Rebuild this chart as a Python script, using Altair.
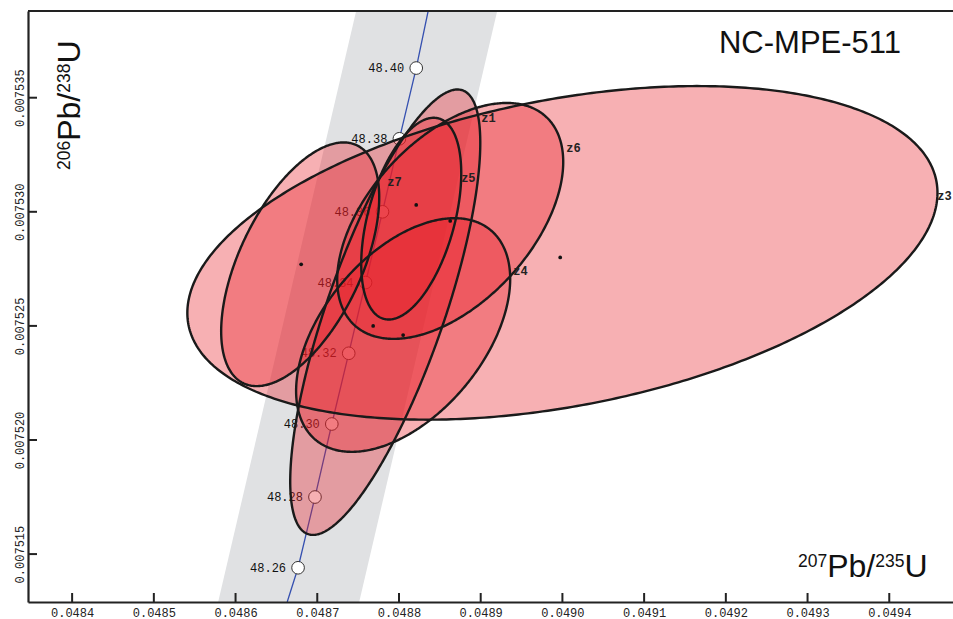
import numpy as np
import pandas as pd
import altair as alt

# ---------------- data ----------------
x_ticks = [0.0484, 0.0485, 0.0486, 0.0487, 0.0488, 0.0489, 0.0490, 0.0491, 0.0492, 0.0493, 0.0494]
y_ticks = [0.007515, 0.007520, 0.007525, 0.007530, 0.007535]
x_domain = [0.048346, 0.049478]
y_domain = [0.0075129, 0.0075388]

# concordia age markers (Ma) and their positions
ages = ["48.26", "48.28", "48.30", "48.32", "48.34", "48.36", "48.38", "48.40"]
age_x = [0.0486765, 0.0486972, 0.0487178, 0.0487385, 0.0487591, 0.0487798, 0.0488005, 0.0488211]
age_y = [0.0075144, 0.0075175, 0.0075207, 0.0075238, 0.0075269, 0.0075300, 0.0075332, 0.0075363]
# concordia line where it leaves the frame (bottom, top)
line_end_x = [0.0486632, 0.0488357]
line_end_y = [0.0075129, 0.0075388]

# decay-constant uncertainty band edges (bottom, top)
band_y = [0.0075129, 0.0075388]
band_xlo = [0.0485787, 0.0487476]
band_xhi = [0.0487513, 0.0489202]

# error ellipses
ell_id = ["z1", "z3", "z4", "z5", "z6", "z7"]
ell_cx = [0.0487832, 0.0490000, 0.0488051, 0.0488150, 0.0488627, 0.0486791]
ell_cy = [0.0075256, 0.0075282, 0.0075246, 0.0075297, 0.0075296, 0.0075277]
ell_sx = [1.163e-4, 4.590e-4, 1.310e-4, 6.12e-5, 1.383e-4, 9.67e-5]
ell_sy = [9.76e-6, 7.31e-6, 5.12e-6, 4.42e-6, 5.17e-6, 5.34e-6]
ell_rho = [0.76, 0.36, 0.48, 0.45, 0.50, 0.55]
dot_x = [0.0487684, 0.0489973, 0.0488051, 0.0488211, 0.0488627, 0.0486803]
dot_y = [0.0075250, 0.0075280, 0.0075246, 0.0075303, 0.0075296, 0.0075277]
# ellipse labels
lab_x = [0.0489006, 0.0494588, 0.0489398, 0.0488761, 0.0490047, 0.0487856]
lab_y = [0.0075341, 0.0075307, 0.0075274, 0.0075315, 0.0075328, 0.0075313]

sample_name = "NC-MPE-511"
# axis titles: pieces, superscript mass numbers
x_title_parts = ["207", "Pb/", "235", "U"]
y_title_parts = ["206", "Pb/", "238", "U"]
title_sup = [True, False, True, False]

# ---------------- build tables ----------------
area_rows, line_rows = [], []
ta = np.linspace(0, np.pi, 241)
to = np.linspace(0, 2 * np.pi, 481)
for k, name in enumerate(ell_id):
    cx, cy, sx, sy, r = ell_cx[k], ell_cy[k], ell_sx[k], ell_sy[k], ell_rho[k]
    s = np.sqrt(1 - r * r)
    for t in ta:
        area_rows.append({"id": name, "x": cx + sx * np.cos(t),
                          "yhi": cy + sy * (r * np.cos(t) + s * np.sin(t)),
                          "ylo": cy + sy * (r * np.cos(t) - s * np.sin(t))})
    for i, t in enumerate(to):
        line_rows.append({"id": name, "i": i, "x": cx + sx * np.cos(t),
                          "y": cy + sy * (r * np.cos(t) + s * np.sin(t))})
area_df = pd.DataFrame(area_rows)
outline_df = pd.DataFrame(line_rows)
dots_df = pd.DataFrame({"id": ell_id, "x": dot_x, "y": dot_y})
labels_df = pd.DataFrame({"id": ell_id, "x": lab_x, "y": lab_y})
band_df = pd.DataFrame({"y": band_y, "xlo": band_xlo, "xhi": band_xhi})
conc_df = pd.DataFrame({"x": [line_end_x[0]] + age_x + [line_end_x[1]],
                        "y": [line_end_y[0]] + age_y + [line_end_y[1]]})
ages_df = pd.DataFrame({"age": ages, "x": age_x, "y": age_y})
xt_df = pd.DataFrame({"v": x_ticks})
yt_df = pd.DataFrame({"v": y_ticks})

# ---------------- scales / axes ----------------
W, H = 925, 591
xs = alt.Scale(domain=x_domain, nice=False, zero=False)
ys = alt.Scale(domain=y_domain, nice=False, zero=False)
xaxis = alt.Axis(values=x_ticks, format=".4f", title=None, grid=False, ticks=False, tickSize=0,
                 domainColor="#222", domainWidth=2.2, labelFont="Liberation Mono", labelFontSize=12,
                 labelColor="#222", labelPadding=5, labelFlush=False, labelOverlap=False, zindex=1)
yaxis = alt.Axis(values=y_ticks, format=".6f", title=None, grid=False, ticks=False, tickSize=0,
                 domainColor="#222", domainWidth=2.2, labelFont="Liberation Mono", labelFontSize=12,
                 labelColor="#222", labelAngle=270, labelAlign="center", labelBaseline="bottom",
                 labelPadding=2, labelFlush=False, labelOverlap=False, zindex=1)


def X(f):
    return alt.X(f, type="quantitative", scale=xs, axis=xaxis)


def Y(f):
    return alt.Y(f, type="quantitative", scale=ys, axis=yaxis)


band = alt.Chart(band_df).mark_area(orient="horizontal", color="#e0e1e3", clip=True).encode(
    y=Y("y"), x=X("xlo"), x2="xhi")

conc = alt.Chart(conc_df).mark_line(color="#3550b0", strokeWidth=1.3, clip=True).encode(
    x=X("x"), y=Y("y"), order=alt.Order("x:Q"))

markers = alt.Chart(ages_df).mark_circle(size=160, color="white", stroke="#333", strokeWidth=1,
                                         opacity=1).encode(x=X("x"), y=Y("y"))

age_text = alt.Chart(ages_df).mark_text(align="right", baseline="middle", dx=-12, font="Liberation Mono",
                                        fontSize=12, color="#111").encode(x=X("x"), y=Y("y"), text="age:N")

fills = alt.Chart(area_df).mark_area(orient="vertical", color="#e81d26", opacity=0.35).encode(
    x=X("x"), y=Y("yhi"), y2="ylo", detail="id:N")

outlines = alt.Chart(outline_df).mark_line(color="#1a1a1a", strokeWidth=2.4).encode(
    x=X("x"), y=Y("y"), detail="id:N", order=alt.Order("i:Q"))

dots = alt.Chart(dots_df).mark_circle(size=14, color="#111", opacity=1).encode(x=X("x"), y=Y("y"))

zlabels = alt.Chart(labels_df).mark_text(align="left", baseline="middle", font="Liberation Mono",
                                         fontSize=12, fontWeight="bold", color="#222").encode(
    x=X("x"), y=Y("y"), text="id:N")

xticks = alt.Chart(xt_df).mark_rule(color="#222", strokeWidth=2).encode(
    x=X("v"), y=alt.value(H), y2=alt.value(H - 9))
yticks = alt.Chart(yt_df).mark_rule(color="#222", strokeWidth=2).encode(
    y=Y("v"), x=alt.value(0), x2=alt.value(9))
topline = alt.Chart(pd.DataFrame({"a": [0]})).mark_rule(color="#222", strokeWidth=2.2).encode(
    x=alt.value(0), x2=alt.value(W), y=alt.value(0))

name_t = alt.Chart(pd.DataFrame({"t": [sample_name]})).mark_text(
    align="center", baseline="alphabetic", font="Liberation Sans", fontSize=31, color="#111").encode(
    x=alt.value(782), y=alt.value(42), text="t:N")

# axis titles built from pieces (superscript mass numbers)
BIG, SMALL = 32, 17.5
CAP = 0.716


def width(txt, size):
    w = {"P": 0.667, "b": 0.556, "/": 0.278, "U": 0.722}
    return sum(w.get(c, 0.556) for c in txt) * size


title_layers = []
# x title: horizontal, starting at the left
pos = 770.0
base = 566.0
for txt, sup in zip(x_title_parts, title_sup):
    size = SMALL if sup else BIG
    yb = base - BIG * CAP + SMALL * CAP if sup else base
    title_layers.append(alt.Chart(pd.DataFrame({"t": [txt]})).mark_text(
        align="left", baseline="alphabetic", font="Liberation Sans", fontSize=size, color="#111").encode(
        x=alt.value(pos), y=alt.value(yb), text="t:N"))
    pos += width(txt, size)
# y title: rotated, reading upward
pos = 159.0
base = 52.0
for txt, sup in zip(y_title_parts, title_sup):
    size = SMALL if sup else BIG
    xb = base - BIG * CAP + SMALL * CAP if sup else base
    title_layers.append(alt.Chart(pd.DataFrame({"t": [txt]})).mark_text(
        align="left", baseline="alphabetic", font="Liberation Sans", fontSize=size, color="#111",
        angle=270).encode(x=alt.value(xb), y=alt.value(pos), text="t:N"))
    pos -= width(txt, size)

chart = alt.layer(band, conc, markers, age_text, fills, outlines, dots, zlabels,
                  xticks, yticks, topline, name_t, *title_layers).properties(
    width=W, height=H,
    padding={"left": 28, "top": 11, "right": 0, "bottom": 17},
    autosize=alt.AutoSizeParams(type="none"),
    background="white",
).configure_view(stroke=None)

chart.save("out.html", embed_options={"renderer": "svg", "actions": False})
